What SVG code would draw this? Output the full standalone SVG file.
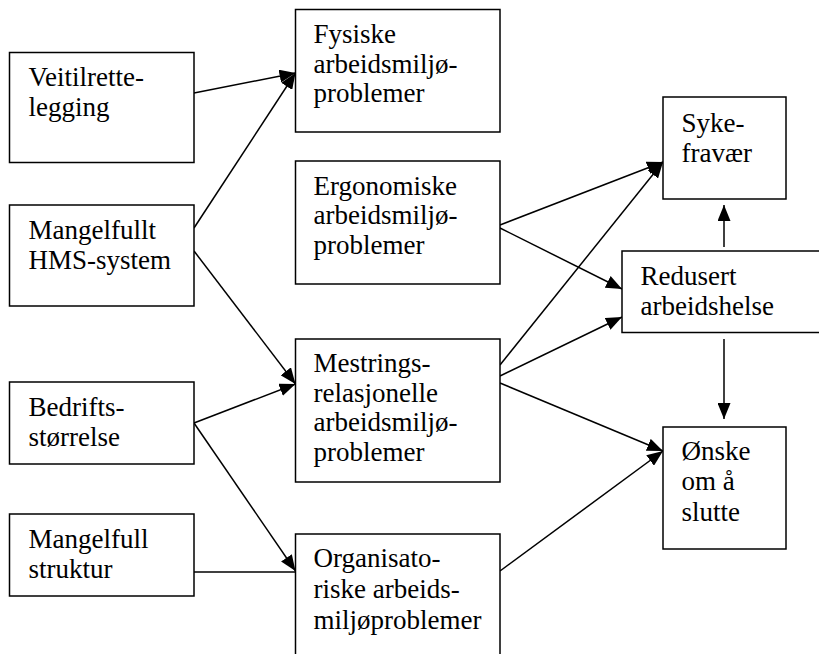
<svg xmlns="http://www.w3.org/2000/svg" width="819" height="654" viewBox="0 0 819 654">
<defs>
<marker id="ah" markerUnits="userSpaceOnUse" markerWidth="16" markerHeight="13" refX="16" refY="6.5" orient="auto">
<path d="M0,0 L16,6.5 L0,13 z" fill="#000"/>
</marker>
<style>
rect{fill:#fff;stroke:#000;stroke-width:1.5}
.c line{stroke:#000;stroke-width:1.5}
.a{marker-end:url(#ah)}
</style>
</defs>
<rect x="0" y="0" width="819" height="654" style="fill:#fff;stroke:none"/>
<g class="c" id="connectors">
<line class="a" x1="194" y1="93" x2="295.5" y2="73"/>
<line class="a" x1="194" y1="228" x2="295.5" y2="73"/>
<line class="a" x1="194" y1="251" x2="295.5" y2="384"/>
<line class="a" x1="194" y1="423" x2="295.5" y2="384"/>
<line class="a" x1="194" y1="423" x2="295.5" y2="571"/>
<line x1="194" y1="572" x2="295.5" y2="572"/>
<line class="a" x1="500" y1="225" x2="663" y2="162"/>
<line class="a" x1="500" y1="365" x2="663" y2="162"/>
<line class="a" x1="500" y1="228" x2="622" y2="289"/>
<line class="a" x1="500" y1="376" x2="622" y2="317"/>
<line class="a" x1="500" y1="383" x2="663" y2="451"/>
<line class="a" x1="500" y1="571" x2="663" y2="451"/>
<line class="a" x1="724" y1="247" x2="724" y2="205"/>
<line class="a" x1="724" y1="339" x2="724" y2="419"/>
</g>
<g id="nodes" font-family="Liberation Serif, serif" font-size="27" fill="#000">
<g id="veitil">
<rect x="9.5" y="52.5" width="184.5" height="110"/>
<text x="28.5" y="86">Veitilrette-</text>
<text x="28.5" y="116">legging</text>
</g>
<g id="hms">
<rect x="9.5" y="205" width="184.5" height="101"/>
<text x="28.5" y="238.5">Mangelfullt</text>
<text x="28.5" y="268.5">HMS-system</text>
</g>
<g id="bedrift">
<rect x="9.5" y="382" width="184.5" height="82"/>
<text x="28.5" y="415.5">Bedrifts-</text>
<text x="28.5" y="445.5">størrelse</text>
</g>
<g id="struktur">
<rect x="9.5" y="514" width="184.5" height="82"/>
<text x="28.5" y="547.5">Mangelfull</text>
<text x="28.5" y="577.5">struktur</text>
</g>
<g id="fysiske">
<rect x="295.5" y="9.5" width="204.5" height="122.5"/>
<text x="313.5" y="43">Fysiske</text>
<text x="313.5" y="72.5">arbeidsmiljø-</text>
<text x="313.5" y="102">problemer</text>
</g>
<g id="ergonomiske">
<rect x="295.5" y="161" width="204.5" height="123"/>
<text x="313.5" y="194.5">Ergonomiske</text>
<text x="313.5" y="224">arbeidsmiljø-</text>
<text x="313.5" y="253.5">problemer</text>
</g>
<g id="mestrings">
<rect x="295.5" y="339" width="204.5" height="143"/>
<text x="313.5" y="372">Mestrings-</text>
<text x="313.5" y="401.5">relasjonelle</text>
<text x="313.5" y="431">arbeidsmiljø-</text>
<text x="313.5" y="460.5">problemer</text>
</g>
<g id="organisato">
<rect x="295.5" y="534" width="204.5" height="140"/>
<text x="313.5" y="567">Organisato-</text>
<text x="313.5" y="598">riske arbeids-</text>
<text x="313.5" y="629">miljøproblemer</text>
</g>
<g id="syke">
<rect x="663" y="97" width="123" height="102"/>
<text x="681.5" y="132">Syke-</text>
<text x="681.5" y="162">fravær</text>
</g>
<g id="redusert">
<rect x="622" y="251" width="210" height="81.5"/>
<text x="640.5" y="284.5">Redusert</text>
<text x="640.5" y="315">arbeidshelse</text>
</g>
<g id="onske">
<rect x="663" y="427" width="123" height="122"/>
<text x="681.5" y="459.5">Ønske</text>
<text x="681.5" y="490">om å</text>
<text x="681.5" y="521">slutte</text>
</g>
</g>
</svg>
